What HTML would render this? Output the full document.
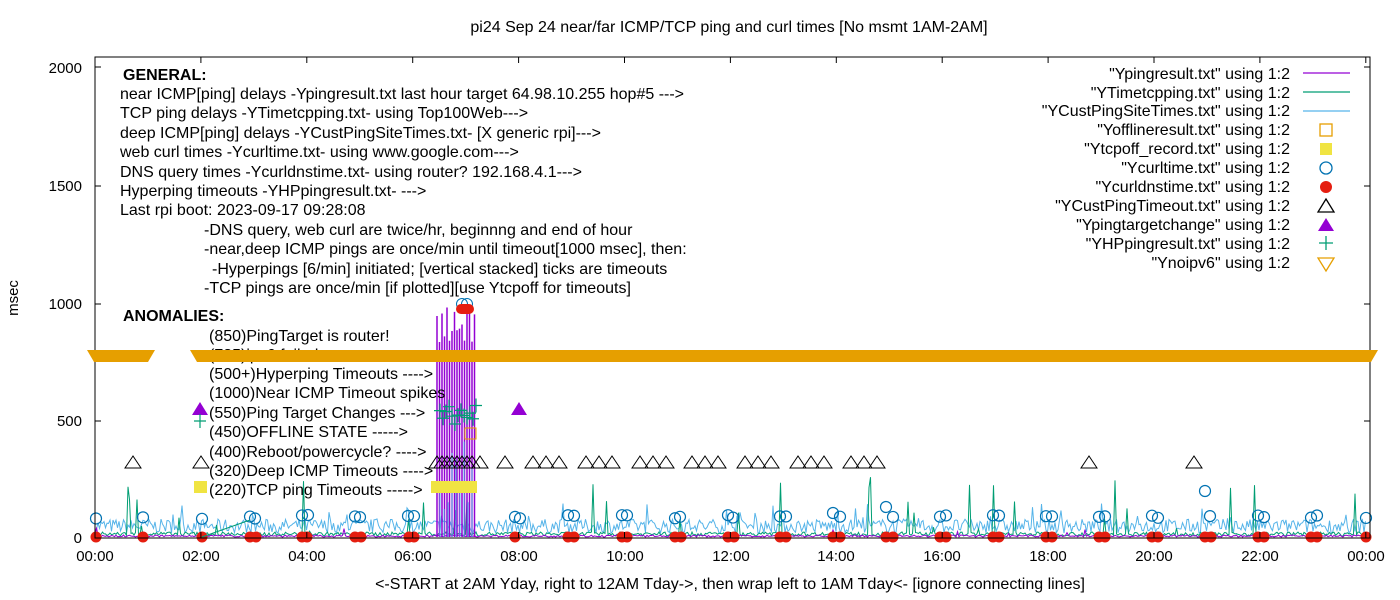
<!DOCTYPE html>
<html><head><meta charset="utf-8"><style>
body{margin:0;background:#fff;width:1400px;height:600px;overflow:hidden}
svg{display:block;font-family:"Liberation Sans",sans-serif}
text{font-size:16px;fill:#000}
.ax{font-size:15px}
</style></head><body>
<svg id="s" width="1400" height="600" xmlns="http://www.w3.org/2000/svg">
<rect width="1400" height="600" fill="#fff"/>
<g id="data"></g>
<rect x="95" y="57" width="1275" height="481" fill="none" stroke="#000" stroke-width="1"/>
<g id="ticks" stroke="#000" stroke-width="1"></g>
<text x="729" y="32" text-anchor="middle">pi24 Sep 24  near/far ICMP/TCP ping and curl times [No msmt 1AM-2AM]</text>
<text x="18" y="298" transform="rotate(-90 18 298)" text-anchor="middle" class="ax">msec</text>
<text x="730" y="589" text-anchor="middle">&lt;-START at 2AM Yday, right to 12AM Tday-&gt;, then wrap left to 1AM Tday&lt;- [ignore connecting lines]</text>
<g text-anchor="end" class="ax">
<text class="ax" x="82" y="73">2000</text><text class="ax" x="82" y="191">1500</text><text class="ax" x="82" y="309">1000</text><text class="ax" x="82" y="426">500</text><text class="ax" x="82" y="543">0</text>
</g>
<g text-anchor="middle">
<text class="ax" x="95" y="561">00:00</text><text class="ax" x="201" y="561">02:00</text><text class="ax" x="307" y="561">04:00</text><text class="ax" x="413" y="561">06:00</text><text class="ax" x="519" y="561">08:00</text><text class="ax" x="625" y="561">10:00</text><text class="ax" x="731" y="561">12:00</text><text class="ax" x="836" y="561">14:00</text><text class="ax" x="942" y="561">16:00</text><text class="ax" x="1048" y="561">18:00</text><text class="ax" x="1154" y="561">20:00</text><text class="ax" x="1260" y="561">22:00</text><text class="ax" x="1366" y="561">00:00</text>
</g>
<g>
<text x="123" y="80" font-weight="bold">GENERAL:</text>
<text x="120" y="99">near ICMP[ping] delays -Ypingresult.txt last hour target 64.98.10.255 hop#5 ---&gt;</text>
<text x="120" y="118">TCP ping delays -YTimetcpping.txt- using Top100Web---&gt;</text>
<text x="120" y="138">deep ICMP[ping] delays -YCustPingSiteTimes.txt- [X generic rpi]---&gt;</text>
<text x="120" y="157">web curl times -Ycurltime.txt- using www.google.com---&gt;</text>
<text x="120" y="177">DNS query times -Ycurldnstime.txt- using router? 192.168.4.1---&gt;</text>
<text x="120" y="196">Hyperping timeouts -YHPpingresult.txt- ---&gt;</text>
<text x="120" y="215">Last rpi boot: 2023-09-17 09:28:08</text>
<text x="204" y="235">-DNS query, web curl are twice/hr, beginnng and end of hour</text>
<text x="204" y="254">-near,deep ICMP pings are once/min until timeout[1000 msec], then:</text>
<text x="212" y="274">-Hyperpings [6/min] initiated; [vertical stacked] ticks are timeouts</text>
<text x="204" y="293">-TCP pings are once/min [if plotted][use Ytcpoff for timeouts]</text>
<text x="123" y="321" font-weight="bold">ANOMALIES:</text>
<text x="209" y="341">(850)PingTarget is router!</text>
<text x="209" y="360">(785)ipv6 failed</text>
<text x="209" y="379">(500+)Hyperping Timeouts ----&gt;</text>
<text x="209" y="398">(1000)Near ICMP Timeout spikes</text>
<text x="209" y="418">(550)Ping Target Changes ---&gt;</text>
<text x="209" y="437">(450)OFFLINE STATE -----&gt;</text>
<text x="209" y="457">(400)Reboot/powercycle? ----&gt;</text>
<text x="209" y="476">(320)Deep ICMP Timeouts ----&gt;</text>
<text x="209" y="495">(220)TCP ping Timeouts -----&gt;</text>
</g>
<g text-anchor="end">
<text x="1290" y="79">"Ypingresult.txt" using 1:2</text>
<text x="1290" y="98">"YTimetcpping.txt" using 1:2</text>
<text x="1290" y="116">"YCustPingSiteTimes.txt" using 1:2</text>
<text x="1290" y="135">"Yofflineresult.txt" using 1:2</text>
<text x="1290" y="154">"Ytcpoff_record.txt" using 1:2</text>
<text x="1290" y="173">"Ycurltime.txt" using 1:2</text>
<text x="1290" y="192">"Ycurldnstime.txt" using 1:2</text>
<text x="1290" y="211">"YCustPingTimeout.txt" using 1:2</text>
<text x="1290" y="230">"Ypingtargetchange" using 1:2</text>
<text x="1290" y="249">"YHPpingresult.txt" using 1:2</text>
<text x="1290" y="268">"Ynoipv6" using 1:2</text>
</g>
<g stroke-width="1.3">
<line x1="1303" y1="73" x2="1350" y2="73" stroke="#9400d3"/>
<line x1="1303" y1="92" x2="1350" y2="92" stroke="#009e73"/>
<line x1="1303" y1="111" x2="1350" y2="111" stroke="#56b4e9"/>
<rect x="1320" y="124" width="12" height="12" fill="none" stroke="#e69f00"/>
<rect x="1320" y="143" width="12" height="12" fill="#f0e442"/>
<circle cx="1326" cy="168" r="6" fill="none" stroke="#0072b2"/>
<circle cx="1326" cy="187" r="6" fill="#e51e10"/>
<path d="M1318 212 L1334 212 L1326 199 Z" fill="none" stroke="#000"/>
<path d="M1318 231 L1334 231 L1326 218 Z" fill="#9400d3"/>
<path d="M1319 243 H1333 M1326 236 V250" stroke="#009e73"/>
<path d="M1318 258 L1334 258 L1326 271 Z" fill="none" stroke="#e69f00"/>
</g>
<g id="top"></g>
</svg>
<script>
(function(){
var NS="http://www.w3.org/2000/svg",g=document.getElementById('data'),tk=document.getElementById('ticks'),tp=document.getElementById('top');
function el(n,a,p){var e=document.createElementNS(NS,n);for(var k in a)e.setAttribute(k,a[k]);(p||g).appendChild(e);return e;}
var seed=7;function r(){seed=(seed*16807)%2147483647;return seed/2147483647;}
var ys=[538,421,304,186,67];
for(var i=0;i<5;i++){el('line',{x1:95,x2:101,y1:ys[i],y2:ys[i]},tk);el('line',{x1:1364,x2:1370,y1:ys[i],y2:ys[i]},tk);}
for(var i=0;i<=12;i++){var x=95+i*105.9;el('line',{x1:x,x2:x,y1:538,y2:532},tk);el('line',{x1:x,x2:x,y1:57,y2:63},tk);}
function noise(col,base,amp,prob,big){var d='M95 '+base;for(var x=95;x<=1366;x+=1.5){var y=base-r()*amp;if(r()<prob)y=base-big*r();d+=' L'+x.toFixed(1)+' '+y.toFixed(1);}el('path',{d:d,fill:'none',stroke:col,'stroke-width':1});}
noise('#56b4e9',533,14,0.05,30);
noise('#009e73',536,4,0.04,60);
noise('#9400d3',537,2,0.01,10);
for(var x=437;x<477;x+=2.5){el('line',{x1:x,x2:x,y1:537,y2:304+r()*40,stroke:'#9400d3','stroke-width':1.5});}
for(var x=440;x<476;x+=4){el('line',{x1:x,x2:x,y1:537,y2:370+r()*150,stroke:'#56b4e9','stroke-width':1});}
for(var x=440;x<478;x+=3){var y=405+r()*20;el('path',{d:'M'+(x-6)+' '+y+' H'+(x+6)+' M'+x+' '+(y-7)+' V'+(y+7),stroke:'#009e73','stroke-width':1.2});}
el('rect',{x:431,y:481,width:46,height:12,fill:'#f0e442'});
el('rect',{x:465,y:428,width:11,height:11,fill:'none',stroke:'#e69f00'});
var tri=[133,201,437,442,447,452,457,462,467,472,480,505,533,546,559,586,599,612,640,653,666,692,705,718,745,758,771,798,811,824,851,864,877,1089,1194];
tri.forEach(function(x){el('path',{d:'M'+(x-8)+' 468 L'+(x+8)+' 468 L'+x+' 456 Z',fill:'none',stroke:'#000','stroke-width':1});});
el('path',{d:'M192 415 L208 415 L200 402 Z',fill:'#9400d3'});
el('path',{d:'M511 415 L527 415 L519 402 Z',fill:'#9400d3'});
el('path',{d:'M194 421 H206 M200 414 V428',stroke:'#009e73','stroke-width':1.2});
el('rect',{x:194,y:481,width:13,height:12,fill:'#f0e442'});
var cx=[96,143,202,250,255,302,308,355,360,408,414,515,520,568,574,622,627,675,680,728,733,780,786,833,840,886,893,940,946,993,999,1046,1052,1099,1105,1152,1158,1205,1210,1258,1264,1311,1317,1366];
cx.forEach(function(x,i){var y=519-r()*4;if(x==833)y=513;if(x==886)y=507;if(x==1205)y=491;el('circle',{cx:x,cy:y,r:5.5,fill:'none',stroke:'#0072b2','stroke-width':1.2});});
var rx=[96,143,202,250,256,302,307,355,361,409,414,568,574,622,627,675,681,728,734,780,786,833,840,886,893,940,946,993,999,1046,1052,1099,1105,1152,1158,1205,1211,1258,1264,1311,1317,1366,515];
rx.forEach(function(x){el('circle',{cx:x,cy:537,r:5.5,fill:'#e51e10'});});
el('circle',{cx:462,cy:304,r:5.5,fill:'none',stroke:'#0072b2'});el('circle',{cx:467,cy:304,r:5.5,fill:'none',stroke:'#0072b2'});
el('rect',{x:456,y:304,width:18,height:10,rx:5,fill:'#e51e10'});
el('line',{x1:202,y1:537,x2:250,y2:520,stroke:'#009e73'});
el('path',{d:'M87 350 H155 L148 362 H94 Z',fill:'#e69f00'},tp);
el('path',{d:'M190 350 H1378 L1371 362 H197 Z',fill:'#e69f00'},tp);
})();
</script>
</body></html>
